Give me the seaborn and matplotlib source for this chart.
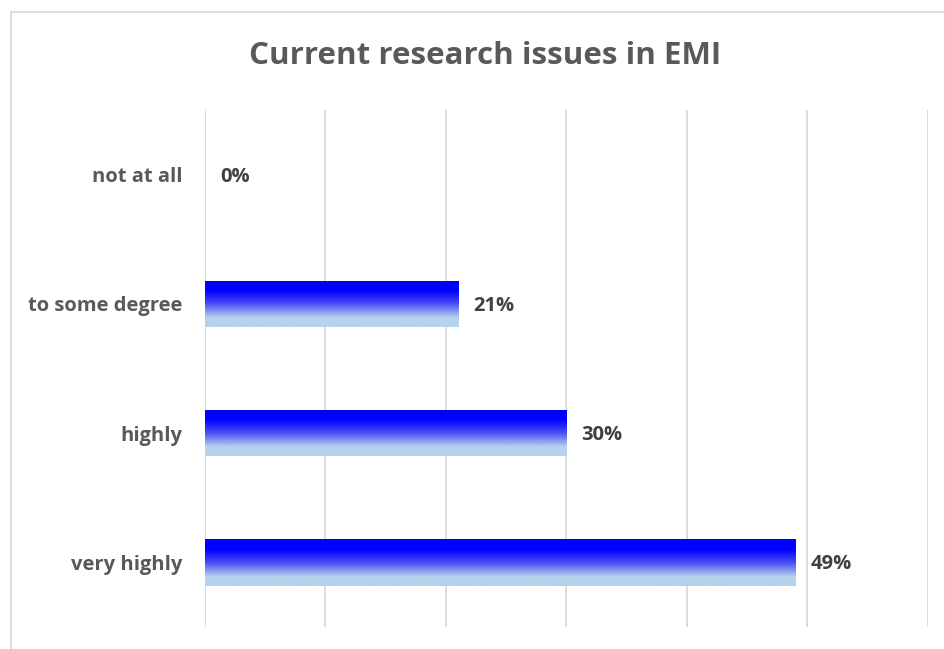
import matplotlib
matplotlib.use("Agg")
import matplotlib.pyplot as plt
import seaborn as sns
import numpy as np
import pandas as pd
from matplotlib.colors import LinearSegmentedColormap
from matplotlib.patches import Rectangle

categories = ["not at all", "to some degree", "highly", "very highly"]
values = [0, 21, 30, 49]
labels = ["0%", "21%", "30%", "49%"]

sns.set_theme(style="white")
plt.rcParams['font.family'] = ['Open Sans', 'DejaVu Sans']

df = pd.DataFrame({"category": categories, "value": values})

fig = plt.figure(figsize=(9.45, 6.49), dpi=100)
ax = fig.add_axes([0.2169, 0.0339, 0.7651, 0.7966])

sns.barplot(data=df, x="value", y="category", order=categories, ax=ax,
            color="#0000FF", width=0.36, orient="h")

cmap = LinearSegmentedColormap.from_list(
    "grad", [(0.0, "#0000FF"), (0.22, "#0000FF"), (0.5, "#4A4CF5"),
             (0.8, "#B5D3EC"), (1.0, "#B5D3EC")])
grad = np.linspace(0, 1, 256).reshape(-1, 1)
for p in list(ax.patches):
    x0, y0 = p.get_x(), p.get_y()
    w, h = p.get_width(), p.get_height()
    p.set_facecolor("none")
    p.set_edgecolor("none")
    p.set_linewidth(0)
    if w <= 0:
        continue
    top, bottom = min(y0, y0 + h), max(y0, y0 + h)
    im = ax.imshow(grad, aspect="auto", cmap=cmap,
                   extent=[x0, x0 + w, bottom, top], origin="upper", zorder=3)
    im.set_clip_path(p)

ax.set_xlim(0, 60)
ax.set_ylim(3.5, -0.5)
ax.set_xticks(np.arange(0, 61, 10))
ax.set_xticklabels([])
ax.grid(axis="x", color="#D9D9D9", linewidth=1.3, zorder=0)
ax.set_axisbelow(True)
for s in ax.spines.values():
    s.set_visible(False)
ax.set_xlabel("")
ax.set_ylabel("")
ax.tick_params(axis="y", length=0, pad=16)
ax.tick_params(axis="x", length=0)
for t in ax.get_yticklabels():
    t.set_fontsize(14.5)
    t.set_fontweight("bold")
    t.set_color("#595959")

for i, (v, lab) in enumerate(zip(values, labels)):
    ax.annotate(lab, xy=(v, i), xytext=(15, -2), textcoords="offset pixels",
                ha="left", va="center", fontsize=14.5, fontweight="bold",
                color="#404040")

fig.text(0.513, 0.913, "Current research issues in EMI", ha="center", va="center",
         fontsize=22.5, fontweight="bold", color="#595959")

fig.patches.append(Rectangle((11 / 945, -0.01), 1.0, 1 - 12 / 649 + 0.01,
                             transform=fig.transFigure, fill=False,
                             edgecolor="#D9D9D9", linewidth=1.3))

fig.savefig("out.png", dpi=100)
